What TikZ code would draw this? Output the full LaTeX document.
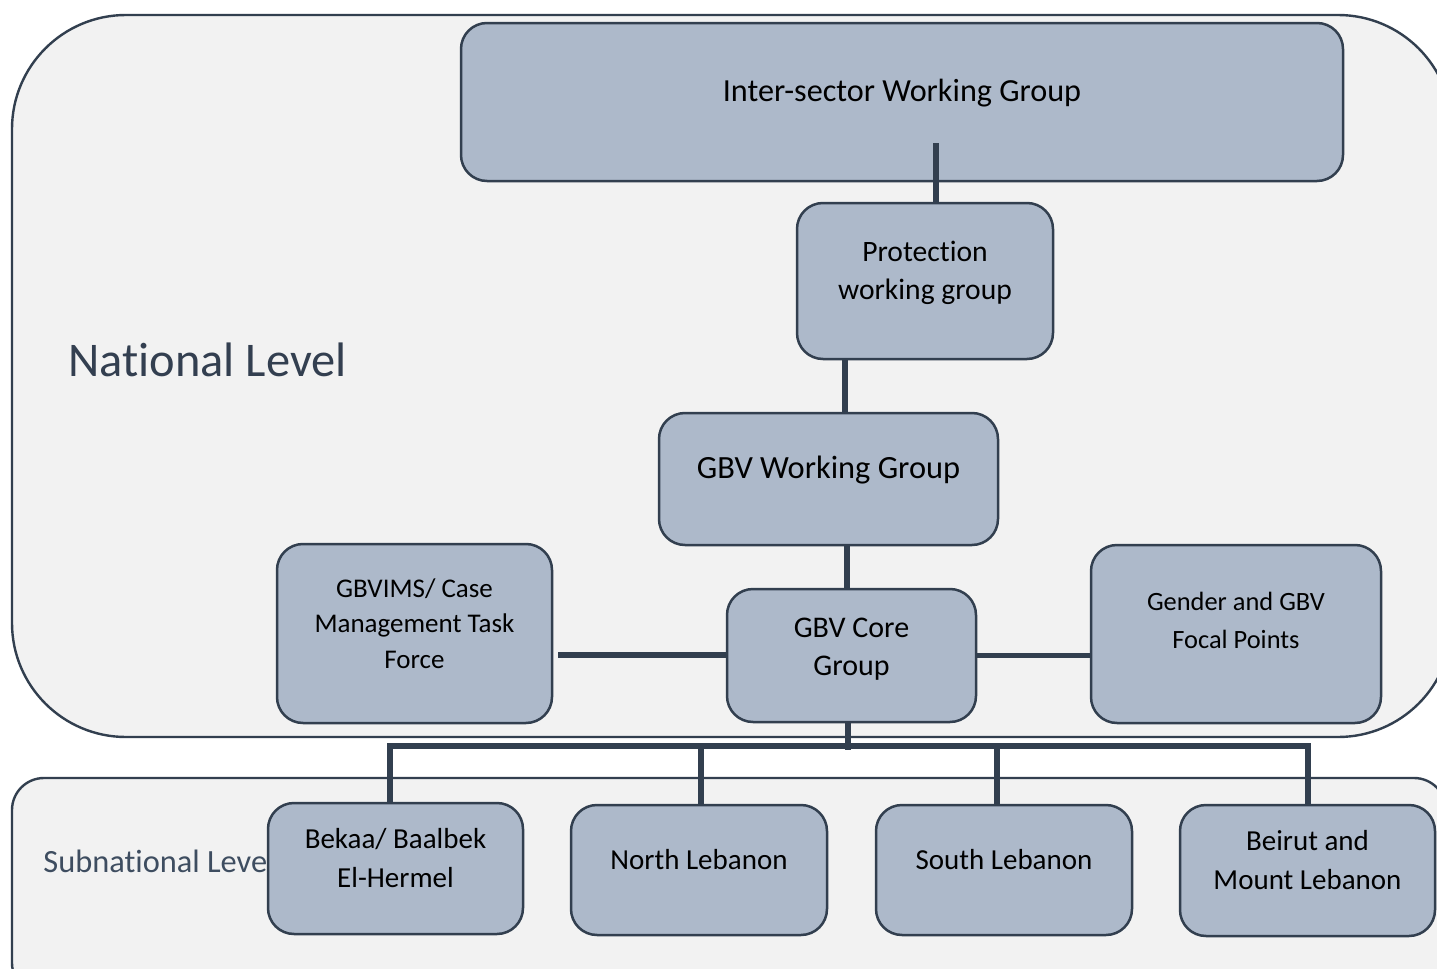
\documentclass[tikz,border=0pt]{standalone}
\usepackage{fontspec}
\setmainfont{Carlito}[Ligatures=NoCommon]
\definecolor{boxfill}{HTML}{ADB9CA}
\definecolor{edge}{HTML}{323F4F}
\definecolor{panel}{HTML}{F2F2F2}
\definecolor{lvl}{HTML}{333F50}
\definecolor{sublvl}{HTML}{3E4D60}
\tikzset{
  box/.style={draw=edge, fill=boxfill, line width=1.25pt, rounded corners=13pt, inner sep=0pt},
  panelbox/.style={draw=edge, fill=panel, line width=1.2pt},
  conn/.style={draw=edge, line width=2.6pt, line join=miter},
  txt/.style={inner sep=0pt, align=center, text=black},
  lvltxt/.style={inner sep=0pt, anchor=west}
}
\begin{document}
\begin{tikzpicture}[x=0.5pt,y=-0.5pt]
\useasboundingbox (0,0) rectangle (1437,969);
\clip (0,0) rectangle (1437,969);
\fill[white] (0,0) rectangle (1437,969);
% panels
\draw[panelbox, rounded corners=57pt] (12,15) rectangle (1452,737);
\draw[panelbox, rounded corners=16pt] (12,778) rectangle (1446,995);
% level labels
\node[lvltxt, text=lvl, font=\fontsize{24.2}{29}\selectfont] (natl) at (68,360) {National Level};
\node[lvltxt, text=sublvl, font=\fontsize{16.2}{19}\selectfont] (subl) at (43,861) {Subnational Level};
% boxes
\node[box, minimum width=441pt, minimum height=79pt] (isw) at (902,102) {};
\node[box, minimum width=128pt, minimum height=78pt] (pwg) at (925,281) {};
\node[box, minimum width=169.5pt, minimum height=66pt] (gwg) at (828.5,479) {};
\node[box, minimum width=124.5pt, minimum height=66.5pt] (core) at (851.5,655.5) {};
\node[box, minimum width=137.5pt, minimum height=89.5pt] (ims) at (414.5,633.5) {};
\node[box, minimum width=145pt, minimum height=89pt] (gfp) at (1236,634) {};
\node[box, minimum width=127.5pt, minimum height=65.5pt] (bek) at (395.5,868.5) {};
\node[box, minimum width=128pt, minimum height=65pt] (nl) at (699,870) {};
\node[box, minimum width=128pt, minimum height=65pt] (sl) at (1004,870) {};
\node[box, minimum width=127.5pt, minimum height=65.5pt] (bml) at (1307.5,870.5) {};
% texts
\node[txt, font=\fontsize{16.1}{19}\selectfont] (iswt) at (902,93) {Inter-sector Working Group};
\node[txt, font=\fontsize{14.8}{19}\selectfont] (pwgt) at (925,273) {Protection\\working group};
\node[txt, font=\fontsize{16.2}{19}\selectfont] (gwgt) at (828.5,470) {GBV Working Group};
\node[txt, font=\fontsize{15}{19}\selectfont] (coret) at (851.5,649) {GBV Core\\Group};
\node[txt, font=\fontsize{13.5}{17.75}\selectfont] (imst) at (414.5,623.5) {GBVIMS/ Case\\Management Task\\Force};
\node[txt, font=\fontsize{13.2}{19}\selectfont] (gfpt) at (1236,620) {Gender and GBV\\Focal Points};
\node[txt, font=\fontsize{14.5}{19.5}\selectfont] (bekt) at (395.5,858.5) {Bekaa/ Baalbek\\El-Hermel};
\node[txt, font=\fontsize{14.5}{19.5}\selectfont] (nlt) at (699,860) {North Lebanon};
\node[txt, font=\fontsize{14.5}{19.5}\selectfont] (slt) at (1004,860) {South Lebanon};
\node[txt, font=\fontsize{14.5}{19.5}\selectfont] (bmlt) at (1307.5,860.5) {Beirut and\\Mount Lebanon};
% helper coordinates
\coordinate (iswc) at (936,143);
\coordinate (x845) at (845,0);
\coordinate (x847) at (847,0);
\coordinate (x848) at (848,0);
\coordinate (busL) at (390,746);
\coordinate (busR) at (1308,746);
\coordinate (busN) at (701,746);
\coordinate (busS) at (997,746);
\coordinate (coreB) at (848,750);
\coordinate (imsC) at (558,655);
% connectors
\draw[conn] (iswc) -- (iswc |- pwg.north);
\draw[conn] (x845 |- pwg.south) -- (x845 |- gwg.north);
\draw[conn] (x847 |- gwg.south) -- (x847 |- core.north);
\draw[conn] (x848 |- core.south) -- (coreB);
\draw[conn] (busL |- bek.north) -- (busL) -- (busR) -- (busR |- bml.north);
\draw[conn] (busN) -- (busN |- nl.north);
\draw[conn] (busS) -- (busS |- sl.north);
\draw[conn] (imsC) -- (imsC -| core.west);
\draw[conn] (core.east) -- (core.east -| gfp.west);
\end{tikzpicture}
\end{document}
